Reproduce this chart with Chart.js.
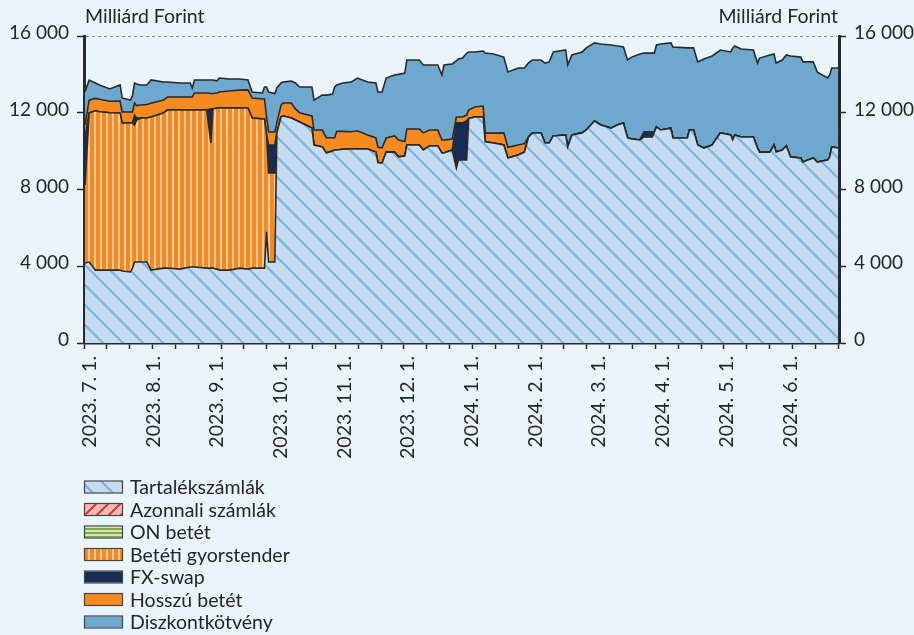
<!DOCTYPE html>
<html lang="hu">
<head>
<meta charset="utf-8">
<title>Jegybanki eszközök</title>
<script src="https://cdn.jsdelivr.net/npm/chart.js@4.4.1/dist/chart.umd.min.js"></script>
<style>
  html, body { margin: 0; padding: 0; background: #eaf4fb; }
  #chart { display: block; }
</style>
</head>
<body>
<canvas id="chart" width="914" height="635"></canvas>
<script>
// napok (vízszintes tengely), milliárd forint
const nap = [
  0, 2, 5, 7, 12, 17, 18, 22, 23, 24,
  25, 27, 30, 32, 38, 40, 46, 51, 52, 53,
  59, 61, 62, 64, 65, 70, 75, 79, 81, 86,
  87, 88, 89, 92, 93, 95, 96, 100, 102, 104,
  110, 111, 115, 117, 120, 121, 122, 125, 129, 132,
  137, 141, 142, 144, 146, 150, 152, 155, 156, 162,
  164, 167, 171, 173, 174, 178, 180, 181, 183, 185,
  186, 189, 193, 194, 198, 203, 205, 210, 213, 215,
  217, 221, 223, 225, 227, 233, 234, 236, 241, 243,
  247, 250, 255, 258, 261, 263, 265, 269, 271, 275,
  276, 277, 279, 284, 285, 292, 293, 295, 297, 300,
  304, 308, 313, 314, 315, 318, 324, 326, 327, 332,
  334, 335, 338, 340, 342, 347, 348, 353, 355, 360,
  361, 362, 365
];

const tartalek = [
  4170, 4220, 3800, 3800, 3800, 3800, 3750, 3700, 3900, 4220,
  4220, 4220, 4220, 3800, 3900, 3910, 3850, 3960, 3960, 3960,
  3900, 3900, 3900, 3850, 3800, 3800, 3900, 3850, 3900, 3900,
  3900, 5790, 4220, 4220, 10950, 11780, 11830, 11730, 11620, 11520,
  11200, 10320, 10220, 9900, 10000, 10060, 10060, 10100, 10110, 10110,
  10110, 9950, 9400, 9380, 9950, 9950, 9700, 9750, 10320, 10320,
  10060, 10270, 10270, 9900, 9900, 10060, 9120, 9540, 9540, 9540,
  11700, 11780, 11780, 10480, 10420, 10320, 9640, 9800, 9950, 10740,
  10950, 10950, 10420, 10420, 10790, 10840, 10220, 10840, 10950, 11100,
  11570, 11360, 11200, 11360, 11470, 10690, 10630, 10580, 10740, 10740,
  11000, 11260, 11100, 11200, 10690, 10690, 11100, 11100, 10320, 10160,
  10320, 10950, 10840, 10580, 10840, 10740, 10740, 10160, 9950, 9950,
  10320, 9950, 10060, 10270, 9690, 9640, 9430, 9640, 9430, 9540,
  9700, 10220, 10160
];

const gyorstender = [
  4070, 7770, 8300, 8250, 8200, 8190, 7720, 7770, 7570, 7140,
  7400, 7510, 7510, 7980, 8090, 8230, 8290, 8180, 8180, 8180,
  8240, 6520, 8300, 8400, 8450, 8450, 8350, 8400, 7830, 7780,
  7780, 5050, 4640, 4640, 0, 0, 0, 0, 0, 0,
  0, 0, 0, 0, 0, 0, 0, 0, 0, 0,
  0, 0, 0, 0, 0, 0, 0, 0, 0, 0,
  0, 0, 0, 0, 0, 0, 0, 0, 0, 0,
  0, 0, 0, 0, 0, 0, 0, 0, 0, 0,
  0, 0, 0, 0, 0, 0, 0, 0, 0, 0,
  0, 0, 0, 0, 0, 0, 0, 0, 0, 0,
  0, 0, 0, 0, 0, 0, 0, 0, 0, 0,
  0, 0, 0, 0, 0, 0, 0, 0, 0, 0,
  0, 0, 0, 0, 0, 0, 0, 0, 0, 0,
  0, 0, 0
];

const fxswap = [
  2500, 0, 0, 0, 0, 0, 0, 0, 0, 520,
  100, 0, 0, 0, 0, 0, 0, 0, 0, 0,
  0, 1780, 0, 0, 0, 0, 0, 0, 0, 0,
  0, 0, 1460, 1460, 0, 0, 0, 0, 0, 0,
  0, 0, 0, 0, 0, 0, 0, 0, 0, 0,
  0, 0, 0, 0, 0, 0, 0, 0, 0, 0,
  0, 0, 0, 0, 0, 0, 2350, 1930, 1930, 2040,
  0, 0, 0, 0, 0, 0, 0, 0, 0, 0,
  0, 0, 0, 0, 0, 0, 0, 0, 0, 0,
  0, 0, 0, 0, 0, 0, 0, 0, 250, 250,
  0, 0, 0, 0, 0, 0, 0, 0, 0, 0,
  0, 0, 0, 0, 0, 0, 0, 0, 0, 0,
  0, 0, 0, 0, 0, 0, 0, 0, 0, 0,
  0, 0, 0
];

const hosszu = [
  630, 670, 650, 650, 600, 620, 570, 570, 570, 630,
  650, 670, 700, 720, 670, 680, 680, 680, 680, 890,
  890, 800, 800, 780, 830, 880, 930, 940, 1040, 1040,
  1040, 940, 680, 680, 520, 620, 680, 780, 580, 480,
  630, 780, 880, 800, 700, 630, 970, 930, 900, 950,
  730, 740, 800, 790, 740, 840, 880, 750, 830, 830,
  890, 830, 830, 680, 680, 570, 310, 310, 310, 300,
  450, 520, 570, 460, 520, 630, 560, 520, 450, 0,
  0, 0, 0, 0, 0, 0, 0, 0, 0, 0,
  0, 0, 0, 0, 0, 0, 0, 0, 0, 0,
  0, 0, 0, 0, 0, 0, 0, 0, 0, 0,
  0, 0, 0, 0, 0, 0, 0, 0, 0, 0,
  0, 0, 0, 0, 0, 0, 0, 0, 0, 0,
  0, 0, 0
];

const diszkont = [
  1730, 1040, 800, 750, 640, 840, 730, 620, 860, 1040,
  1130, 1050, 1020, 1210, 940, 780, 730, 730, 470, 680,
  680, 710, 710, 630, 730, 630, 580, 520, 310, 310,
  620, 1560, 2080, 2000, 1820, 1150, 1090, 1140, 1350, 1340,
  1510, 1560, 1820, 2220, 2280, 2650, 2420, 2520, 2590, 2750,
  2760, 2860, 2880, 2910, 3120, 3180, 3420, 3570, 3600, 3600,
  3540, 3390, 3390, 3390, 3910, 3910, 2920, 3020, 3070, 3220,
  3020, 2870, 2870, 4170, 4120, 3950, 3930, 4010, 3930, 3860,
  3800, 3800, 4170, 4230, 4380, 4430, 4270, 4170, 4220, 4280,
  4070, 4220, 4330, 4120, 3960, 4060, 4270, 4480, 4120, 4120,
  4110, 4270, 4480, 4440, 4740, 4690, 4280, 4280, 4330, 4640,
  4640, 4320, 4330, 4800, 4640, 4580, 4530, 4430, 4900, 5060,
  4740, 4640, 4690, 4740, 5270, 5260, 5220, 5010, 4690, 4270,
  4270, 4110, 4170
];

const honapCimkek = [
  '2023. 7. 1.', '2023. 8. 1.', '2023. 9. 1.', '2023. 10. 1.',
  '2023. 11. 1.', '2023. 12. 1.', '2024. 1. 1.', '2024. 2. 1.',
  '2024. 3. 1.', '2024. 4. 1.', '2024. 5. 1.', '2024. 6. 1.'
];

const egyseg = 'Milliárd Forint';
const betu = '"Lato", "DejaVu Sans", sans-serif';
const szoveg = '#262626';
const vonal = '#2a2a2a';

const canvas = document.getElementById('chart');
const ctx = canvas.getContext('2d');

function minta(w, h, hatter, rajz) {
  const c = document.createElement('canvas');
  c.width = w;
  c.height = h;
  const g = c.getContext('2d');
  g.fillStyle = hatter;
  g.fillRect(0, 0, w, h);
  rajz(g);
  return ctx.createPattern(c, 'repeat');
}

const tartalekMinta = minta(20, 20, '#c5dbef', (g) => {
  g.strokeStyle = '#7db3dc';
  g.lineWidth = 2.2;
  g.beginPath();
  g.moveTo(-2, -2); g.lineTo(22, 22);
  g.moveTo(-2, 18); g.lineTo(2, 22);
  g.moveTo(18, -2); g.lineTo(22, 2);
  g.stroke();
});

const azonnaliMinta = minta(12, 12, '#efbcae', (g) => {
  g.strokeStyle = '#d3393a';
  g.lineWidth = 2;
  g.beginPath();
  g.moveTo(-2, 14); g.lineTo(14, -2);
  g.moveTo(-2, 2); g.lineTo(2, -2);
  g.moveTo(10, 14); g.lineTo(14, 10);
  g.stroke();
});

const onMinta = minta(4, 4, '#d4e8b9', (g) => {
  g.fillStyle = '#7fa94b';
  g.fillRect(0, 0, 4, 2);
});

const gyorsMinta = minta(6, 6, '#f48a21', (g) => {
  g.fillStyle = '#fac99a';
  g.fillRect(4, 0, 2, 6);
});

const pontok = (arr) => nap.map((x, i) => ({ x: x, y: arr[i] }));

function reteg(label, arr, szin, fill) {
  return {
    label: label,
    data: arr ? pontok(arr) : [],
    backgroundColor: szin,
    borderColor: vonal,
    borderWidth: 1.6,
    fill: fill,
    pointRadius: 0,
    tension: 0
  };
}

const ezres = (v) => String(v).replace(/\B(?=(\d{3})+(?!\d))/g, ' ');

const feliratok = {
  id: 'feliratok',
  afterDatasetsDraw(chart) {
    const { ctx, chartArea } = chart;
    const y = chart.scales.y.getPixelForValue(16000);
    ctx.save();
    ctx.strokeStyle = '#8c8c8c';
    ctx.lineWidth = 1;
    ctx.setLineDash([3, 3]);
    ctx.beginPath();
    ctx.moveTo(chartArea.left + 2, y + 0.5);
    ctx.lineTo(chartArea.right - 2, y + 0.5);
    ctx.stroke();
    ctx.restore();
  },
  afterDraw(chart) {
    const { ctx, chartArea } = chart;
    ctx.save();
    ctx.font = '19.5px ' + betu;
    ctx.fillStyle = szoveg;
    ctx.textBaseline = 'middle';
    ctx.textAlign = 'left';
    ctx.fillText(egyseg, chartArea.left + 1, 17);
    ctx.textAlign = 'right';
    ctx.fillText(egyseg, chartArea.right - 1, 17);

    // jelmagyarázat
    ctx.textAlign = 'left';
    chart.data.datasets.forEach((ds, i) => {
      const cy = 487 + i * 22.5;
      ctx.fillStyle = ds.backgroundColor;
      ctx.fillRect(85, cy - 5.5, 37, 11);
      ctx.strokeStyle = '#454545';
      ctx.lineWidth = 1.2;
      ctx.strokeRect(84.5, cy - 6, 38, 12);
      ctx.fillStyle = szoveg;
      ctx.fillText(ds.label, 130, cy + 1);
    });
    ctx.restore();
  }
};

const yTengely = (pos, szelesseg) => ({
  type: 'linear',
  position: pos,
  stacked: pos === 'left',
  min: 0,
  max: 16000,
  afterFit: (s) => { s.width = szelesseg; },
  ticks: {
    stepSize: 4000,
    padding: 8,
    labelOffset: -3,
    color: szoveg,
    font: { size: 19 },
    callback: ezres
  },
  grid: { drawOnChartArea: false, tickLength: 7, tickWidth: 1.5, tickColor: vonal },
  border: { color: vonal, width: 3 }
});

new Chart(ctx, {
  type: 'line',
  data: {
    datasets: [
      reteg('Tartalékszámlák', tartalek, tartalekMinta, 'origin'),
      reteg('Azonnali számlák', null, azonnaliMinta, false),
      reteg('ON betét', null, onMinta, false),
      reteg('Betéti gyorstender', gyorstender, gyorsMinta, '-3'),
      reteg('FX-swap', fxswap, '#172b57', '-1'),
      reteg('Hosszú betét', hosszu, '#f48a20', '-1'),
      reteg('Diszkontkötvény', diszkont, '#6fa8cf', '-1')
    ]
  },
  options: {
    responsive: false,
    devicePixelRatio: 1,
    animation: false,
    events: [],
    font: { family: betu },
    layout: { padding: { top: 36, left: 0, right: 0, bottom: 0 } },
    plugins: {
      legend: { display: false },
      tooltip: { enabled: false }
    },
    scales: {
      x: {
        type: 'linear',
        min: -0.5,
        max: 365.5,
        afterFit: (s) => { s.height = 292; },
        afterBuildTicks: (s) => {
          const t = [];
          for (let j = 0; j <= 33; j++) t.push({ value: -0.5 + j * 11.08 });
          honapCimkek.forEach((c, k) => t.push({ value: 2.2 + k * 30.88, honap: c }));
          t.sort((a, b) => a.value - b.value);
          s.ticks = t;
        },
        ticks: {
          autoSkip: false,
          minRotation: 90,
          maxRotation: 90,
          padding: 7,
          color: szoveg,
          font: { size: 19.5 },
          callback: (v, i, t) => t[i].honap || ''
        },
        grid: {
          drawOnChartArea: false,
          tickLength: 6,
          tickWidth: 1.5,
          tickColor: (c) => (c.tick && c.tick.honap) ? 'rgba(0,0,0,0)' : vonal
        },
        border: { color: vonal, width: 2.5 }
      },
      y: yTengely('left', 84),
      y2: yTengely('right', 75)
    }
  },
  plugins: [feliratok]
});
</script>
</body>
</html>
